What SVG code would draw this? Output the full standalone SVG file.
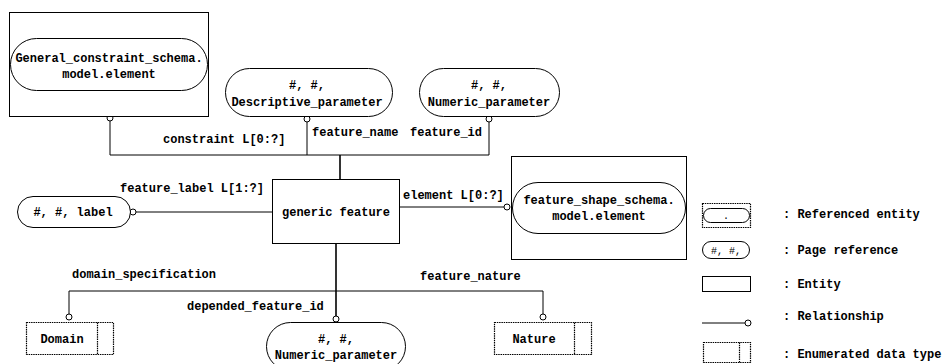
<svg xmlns="http://www.w3.org/2000/svg" width="951" height="364" viewBox="0 0 951 364">
<style>
.s{fill:none;stroke:#000;stroke-width:1}
.t{fill:none;stroke:#000;stroke-width:1.6}
.f{fill:#fff;stroke:#000;stroke-width:1}
.d{fill:#fff;stroke:#000;stroke-width:1.2;stroke-dasharray:1.5 0.8}
.c{fill:#fff;stroke:#000;stroke-width:1}
text{font-family:"Liberation Mono","DejaVu Sans Mono",monospace;font-size:12px;font-weight:bold;fill:#000}
.m{text-anchor:middle}
.sm{font-size:10px;font-weight:normal}
</style>
<rect width="951" height="364" fill="#fff"/>
<g id="connectors">
<polyline class="s" points="110,121 110,155 489,155 489,122"/>
<line class="s" x1="307" y1="122" x2="307" y2="155"/>
<line class="t" x1="340" y1="155" x2="340" y2="179"/>
<line class="s" x1="136" y1="212" x2="272" y2="212"/>
<line class="s" x1="399" y1="207" x2="504" y2="207"/>
<polyline class="s" points="69,314 69,291 543,291 543,314"/>
<line class="t" x1="336" y1="243" x2="336" y2="316"/>
<circle class="c" cx="110" cy="118" r="3"/>
<circle class="c" cx="307" cy="119" r="3"/>
<circle class="c" cx="489" cy="119" r="3"/>
<circle class="c" cx="133" cy="212" r="3"/>
<circle class="c" cx="507" cy="207" r="3"/>
<circle class="c" cx="69" cy="317" r="3"/>
<circle class="c" cx="336" cy="319" r="3"/>
<circle class="c" cx="543" cy="317" r="3"/>
<text x="163" y="143">constraint L[0:?]</text>
<text x="312" y="136">feature_name</text>
<text x="410" y="136">feature_id</text>
<text x="120" y="192">feature_label L[1:?]</text>
<text x="403" y="199">element L[0:?]</text>
<text x="72" y="278">domain_specification</text>
<text x="187" y="310">depended_feature_id</text>
<text x="420" y="280">feature_nature</text>
</g>
<g id="general_constraint">
<rect class="f" x="9.5" y="12.5" width="199" height="104"/>
<rect class="f" x="10.5" y="38.5" width="197" height="52" rx="26"/>
<text class="m" x="109" y="62">General_constraint_schema.</text>
<text class="m" x="109" y="78">model.element</text>
</g>
<g id="descriptive_parameter">
<rect class="f" x="225.5" y="68.5" width="167" height="48" rx="24"/>
<text class="m" x="307" y="89">#, #,</text>
<text class="m" x="307" y="106">Descriptive_parameter</text>
</g>
<g id="numeric_parameter_top">
<rect class="f" x="419.5" y="68.5" width="140" height="48" rx="24"/>
<text class="m" x="489" y="89">#, #,</text>
<text class="m" x="489" y="106">Numeric_parameter</text>
</g>
<g id="generic_feature">
<rect class="f" x="272.5" y="179.5" width="127" height="64"/>
<text class="m" x="336" y="216">generic feature</text>
</g>
<g id="label">
<rect class="f" x="17.5" y="196.5" width="113" height="31" rx="15.5"/>
<text class="m" x="73" y="216">#, #, label</text>
</g>
<g id="feature_shape">
<rect class="f" x="511.5" y="156.5" width="175" height="103"/>
<rect class="f" x="512.5" y="182.5" width="173" height="51" rx="25.5"/>
<text class="m" x="599" y="204">feature_shape_schema.</text>
<text class="m" x="599" y="220">model.element</text>
</g>
<g id="domain">
<rect class="d" x="26.5" y="322.5" width="87" height="32"/>
<line class="d" x1="97.5" y1="322.5" x2="97.5" y2="354.5"/>
<text class="m" x="62" y="343">Domain</text>
</g>
<g id="numeric_parameter_bottom">
<rect class="f" x="266.5" y="322.5" width="139" height="48" rx="24"/>
<text class="m" x="336" y="343">#, #,</text>
<text class="m" x="336" y="359">Numeric_parameter</text>
</g>
<g id="nature">
<rect class="d" x="494.5" y="322.5" width="97" height="32"/>
<line class="d" x1="574.5" y1="322.5" x2="574.5" y2="354.5"/>
<text class="m" x="534" y="343">Nature</text>
</g>
<g id="legend">
<rect class="d" x="702.5" y="203.5" width="48" height="24"/>
<rect class="f" x="703.5" y="208.5" width="46" height="14" rx="7"/>
<text class="m sm" x="726" y="219">.</text>
<text x="783" y="218">: Referenced entity</text>
<rect class="f" x="702.5" y="241.5" width="47" height="17" rx="8.5"/>
<text class="m sm" x="726" y="254">#,  #,</text>
<text x="783" y="254">: Page reference</text>
<rect class="f" x="702.5" y="276.5" width="48" height="15"/>
<text x="783" y="288">: Entity</text>
<line class="s" x1="702" y1="323" x2="745" y2="323"/>
<circle class="c" cx="748" cy="323" r="3"/>
<text x="783" y="320">: Relationship</text>
<rect class="d" x="703.5" y="342.5" width="47" height="20"/>
<line class="d" x1="739.5" y1="342.5" x2="739.5" y2="362.5"/>
<text x="783" y="358">: Enumerated data type</text>
</g>
</svg>
